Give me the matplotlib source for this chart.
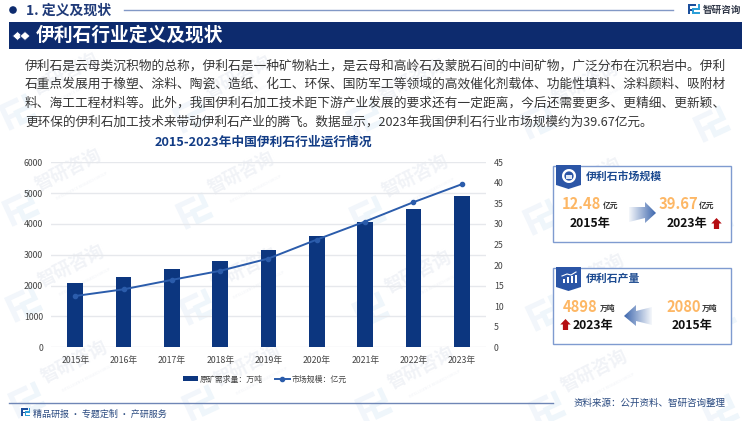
import numpy as np
import matplotlib
matplotlib.use("Agg")
import matplotlib.pyplot as plt
from matplotlib.patches import Polygon, Rectangle, Circle, Wedge
from matplotlib.lines import Line2D
from matplotlib.transforms import Affine2D

plt.rcParams['font.family'] = ['Noto Sans CJK SC', 'DejaVu Sans']

# ---- data ----
years = ['2015年', '2016年', '2017年', '2018年', '2019年', '2020年', '2021年', '2022年', '2023年']
demand = [2080, 2270, 2530, 2800, 3160, 3610, 4050, 4500, 4898]
market = [12.48, 14.1, 16.4, 18.6, 21.6, 26.2, 30.6, 35.3, 39.67]
left_ticks = [0, 1000, 2000, 3000, 4000, 5000, 6000]
right_ticks = [0, 5, 10, 15, 20, 25, 30, 35, 40, 45]
chart_title = '2015-2023年中国伊利石行业运行情况'
legend_bar = '原矿需求量：万吨'
legend_line = '市场规模：亿元'
body_lines = [
    '伊利石是云母类沉积物的总称，伊利石是一种矿物粘土，是云母和高岭石及蒙脱石间的中间矿物，广泛分布在沉积岩中。伊利',
    '石重点发展用于橡塑、涂料、陶瓷、造纸、化工、环保、国防军工等领域的高效催化剂载体、功能性填料、涂料颜料、吸附材',
    '料、海工工程材料等。此外，我国伊利石加工技术距下游产业发展的要求还有一定距离，今后还需要更多、更精细、更新颖、',
    '更环保的伊利石加工技术来带动伊利石产业的腾飞。数据显示，2023年我国伊利石行业市场规模约为39.67亿元。',
]

W, H = 750, 421
NAVY = '#0d2b6e'
BAR = '#0c367f'
LINE = '#2b5cab'
ORANGE = '#fdb765'
RED = '#b50d12'

fig = plt.figure(figsize=(7.5, 4.21), dpi=100, facecolor='white')


def px_axes(z):
    a = fig.add_axes([0, 0, 1, 1], zorder=z)
    a.set_xlim(0, W)
    a.set_ylim(H, 0)
    a.axis('off')
    a.patch.set_alpha(0)
    return a


bg = px_axes(0)
fg = px_axes(3)

LOGO = [
    [(0, 0), (10, 0), (10, 2.4), (2.6, 2.4), (2.6, 6), (6, 6), (6, 8.2), (2.6, 8.2), (2.6, 13), (0, 13)],
    [(12, 0), (14.5, 0), (14.5, 7.5), (8, 7.5), (8, 10.3), (14.5, 10.3), (14.5, 13), (5.5, 13), (5.5, 5.3), (12, 5.3)],
]


def logo(a, x, y, s, angle, colors, z=1):
    tr = Affine2D().scale(s).rotate_deg(angle).translate(x, y) + a.transData
    for pts, c in zip(LOGO, colors):
        a.add_patch(Polygon(pts, closed=True, fc=c, ec='none', transform=tr, zorder=z))


# watermark tiles
for i in range(-1, 5):
    for j in range(-1, 5):
        ox = 173.5 * i + 3 * j
        oy = 96 * j + 3 * i
        wx, wy = 68 + ox, 170 + oy
        if 42 < wx < 708 and 30 < wy < 390:
            bg.text(wx, wy, '智研咨询', fontsize=13, color='#f1f3f7', rotation=27,
                    ha='center', va='center', fontweight='bold')
            bg.text(wx + 14, wy + 16, 'INTELLIGENCE RESEARCH GROUP', fontsize=2.6, color='#f1f3f7',
                    rotation=27, ha='center', va='center')
        logo(bg, 1 + ox, 202 + oy, 2.1, -25, ['#f2f6fb', '#eff6fb'])

# header
fg.add_patch(Circle((13, 10), 3.8, fc=NAVY, ec='none'))
fg.text(26, 10.5, '1. 定义及现状', fontsize=10, fontweight='bold', color='#1f3a78', va='center', ha='left')
fg.add_line(Line2D([124, 673], [10, 10], color='#8298c6', lw=1))
logo(fg, 688, 4, 0.8, 0, ['#1c4f9c', '#2c9fd8'])
fg.text(703, 10, '智研咨询', fontsize=6.9, fontweight='bold', color='#333a4a', va='center', ha='left')
fg.add_patch(Rectangle((9, 22), 733, 26.5, fc=NAVY, ec='none'))
for cx, cc in ((17.5, 'white'), (25, 'white')):
    fg.add_patch(Polygon([(cx - 5, 36), (cx, 31.5), (cx + 5, 36), (cx, 40.5)], fc=cc, ec=NAVY, lw=0.5))
fg.text(36, 35, '伊利石行业定义及现状', fontsize=13.5, fontweight='bold', color='white', va='center', ha='left')

# body
for yy, s, fs in zip([66, 84.5, 103, 122.5], body_lines, [9.18, 9.18, 9.15, 9.1]):
    fg.text(25, yy, s, fontsize=fs, color='#363636', va='center', ha='left')

# chart
ax = fig.add_axes([51 / W, 1 - 347.3 / H, 435 / W, 185 / H], zorder=1)
ax.patch.set_alpha(0)
x = np.arange(len(years))
bars = ax.bar(x, demand, width=0.32, color=BAR, zorder=2)
ax.set_xlim(-0.5, len(years) - 0.5)
ax.set_ylim(0, 6000)
ax.set_yticks(left_ticks)
ax.set_xticks(x, years)
ax.grid(axis='y', color='#e6e8ec', lw=1, zorder=0)
ax.tick_params(axis='both', length=0, labelsize=6.3, labelcolor='#444444')
ax.tick_params(axis='y', pad=5.8)
ax.tick_params(axis='x', pad=6)
for sp in ax.spines.values():
    sp.set_visible(False)

ax2 = ax.twinx()
ax2.patch.set_alpha(0)
ax2.set_zorder(ax.get_zorder() + 1)
ln, = ax2.plot(x, market, color=LINE, lw=1.4, marker='o', ms=3, zorder=3)
ax2.set_ylim(0, 45)
ax2.set_yticks(right_ticks)
ax2.tick_params(axis='y', length=0, labelsize=6.3, labelcolor='#444444', pad=5.8)
for sp in ax2.spines.values():
    sp.set_visible(False)

fig.legend([bars, ln], [legend_bar, legend_line], ncol=2, frameon=False, fontsize=5.7,
           loc='center', bbox_to_anchor=(265 / W, 1 - 379 / H), handlelength=1.9, handleheight=0.55,
           handletextpad=0.25, columnspacing=1.5, labelcolor='#444444')

fig.text(263.5 / W, 1 - 142 / H, chart_title, fontsize=9.2, fontweight='bold', color='#123c85',
         ha='center', va='center', zorder=5)


def grad_arrow(a, pts, x0, x1, y0, y1, flip):
    g = np.linspace(0.05, 1, 128)
    if flip:
        g = g[::-1]
    rgba = np.zeros((2, 128, 4))
    rgba[..., :3] = matplotlib.colors.to_rgb('#3c66ad')
    rgba[..., 3] = g
    im = a.imshow(rgba, extent=(x0, x1, y1, y0), aspect='auto', zorder=2, interpolation='bilinear')
    pg = Polygon(pts, closed=True, fc='none', ec='none', transform=a.transData)
    a.add_patch(pg)
    im.set_clip_path(pg)


def up_arrow(a, cx, top, bottom):
    hw = 5.2
    a.add_patch(Polygon([(cx, top), (cx + hw, top + 5.5), (cx + 2.6, top + 5.5), (cx + 2.6, bottom),
                         (cx - 2.6, bottom), (cx - 2.6, top + 5.5), (cx - hw, top + 5.5)], fc=RED, ec='none'))


def card(a, top, title, title_w):
    a.add_patch(Rectangle((552.5, top), 178.5, 76, fc='white', ec='#7f9bd0', lw=1, zorder=1))
    a.add_patch(Polygon([(556, top - 1), (581, top - 1), (581, top + 19), (568.5, top + 23), (556, top + 19)],
                        fc='#2b55a6', ec='none', zorder=3))
    a.text(586, top + 10.5, title, fontsize=title_w, fontweight='bold', color='#1c4a90', va='center', ha='left', zorder=3)


# card 1
card(fg, 166, '伊利石市场规模', 7.8)
fg.add_patch(Wedge((569, 176), 7, 0, 360, width=2.4, fc='white', ec='none', zorder=4))
fg.add_patch(Rectangle((566, 175), 6, 4, fc='#dfe8f6', ec='none', zorder=4))
fg.text(562, 204, '12.48', fontsize=10.6, fontweight='bold', color=ORANGE, va='center', ha='left', zorder=3)
fg.text(603, 205.5, '亿元', fontsize=5.6, fontweight='bold', color='#333333', va='center', ha='left', zorder=3)
fg.text(570, 223, '2015年', fontsize=8.8, fontweight='bold', color='#111111', va='center', ha='left', zorder=3)
grad_arrow(fg, [(629, 207), (645, 207), (645, 202), (656, 213), (645, 223), (645, 218), (629, 222)],
           629, 656, 200, 225, False)
fg.text(659, 204, '39.67', fontsize=10.6, fontweight='bold', color=ORANGE, va='center', ha='left', zorder=3)
fg.text(699, 205.5, '亿元', fontsize=5.6, fontweight='bold', color='#333333', va='center', ha='left', zorder=3)
fg.text(667, 223, '2023年', fontsize=8.8, fontweight='bold', color='#111111', va='center', ha='left', zorder=3)
up_arrow(fg, 716.5, 218, 229)

# card 2
card(fg, 268, '伊利石产量', 7.8)
for bx, bh in ((562.5, 4), (566.5, 6), (570.5, 7), (574.5, 8)):
    fg.add_patch(Rectangle((bx, 283 - bh), 2.6, bh, fc='white', ec='none', zorder=4))
fg.add_line(Line2D([562, 567, 571, 576], [276, 274, 275, 272], color='white', lw=0.8, zorder=4))
fg.text(563, 307, '4898', fontsize=10.6, fontweight='bold', color=ORANGE, va='center', ha='left', zorder=3)
fg.text(600, 308, '万吨', fontsize=5.6, fontweight='bold', color='#333333', va='center', ha='left', zorder=3)
up_arrow(fg, 565.5, 319, 330)
fg.text(573, 325, '2023年', fontsize=8.8, fontweight='bold', color='#111111', va='center', ha='left', zorder=3)
fg.text(666, 307, '2080', fontsize=10.6, fontweight='bold', color=ORANGE, va='center', ha='left', zorder=3)
fg.text(702, 308, '万吨', fontsize=5.6, fontweight='bold', color='#333333', va='center', ha='left', zorder=3)
fg.text(672, 325, '2015年', fontsize=8.8, fontweight='bold', color='#111111', va='center', ha='left', zorder=3)
grad_arrow(fg, [(652, 307), (636, 311), (636, 305), (624, 316), (636, 326), (636, 321), (652, 325)],
           624, 652, 303, 328, True)

# footer
fg.add_line(Line2D([9, 553], [403, 403], color='#6f86b6', lw=1))
logo(fg, 21, 408, 0.65, 0, ['#1c4f9c', '#2c9fd8'])
fg.text(33, 414, '精品研报 · 专题定制 · 产研服务', fontsize=6.5, color='#2a4a80', va='center', ha='left')
fg.text(574, 403, '资料来源：公开资料、智研咨询整理', fontsize=6.85, color='#2a4a80', va='center', ha='left')

fg.set_xlim(0, W)
fg.set_ylim(H, 0)
fig.savefig('out.png', dpi=100)
